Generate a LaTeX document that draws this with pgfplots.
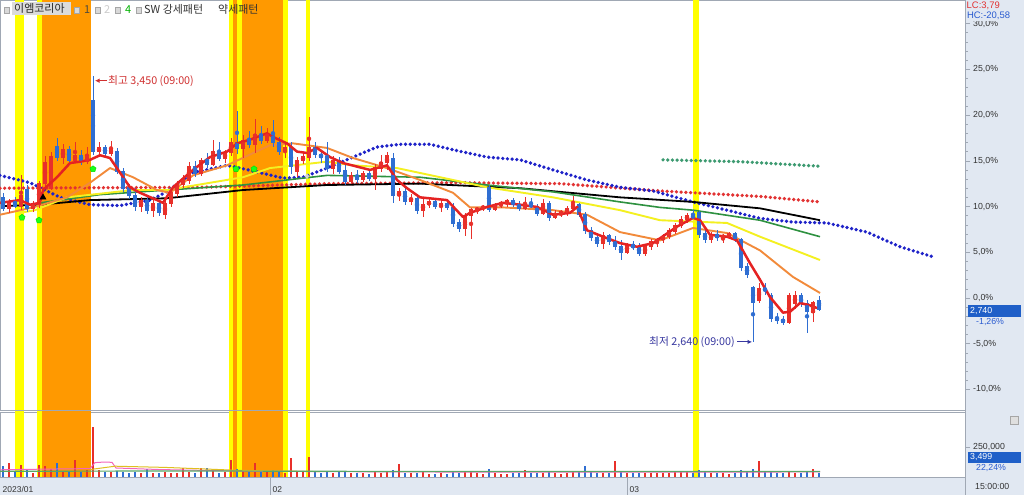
\documentclass[border=0pt]{standalone}
\usepackage{pgfplots}
\pgfplotsset{compat=1.18}
\usepackage{pgfplotstable}
\usepackage{fontspec}
\setmainfont{Liberation Sans}
\newfontfamily\kr{Noto Sans CJK KR}
\usetikzlibrary{arrows.meta}

\definecolor{cup}{HTML}{E8302A}
\definecolor{cdn}{HTML}{2F6ED2}
\definecolor{ma5}{HTML}{E52222}
\definecolor{ma20}{HTML}{F28A3A}
\definecolor{ma60}{HTML}{F4F020}
\definecolor{ma120}{HTML}{2E9140}
\definecolor{bdots}{HTML}{1E22C8}
\definecolor{rdots}{HTML}{E23232}
\definecolor{gdots}{HTML}{3C9A70}
\definecolor{hy}{HTML}{FFFF00}
\definecolor{ho}{HTML}{FF9900}
\definecolor{panel}{HTML}{E1E8F2}
\definecolor{frame}{HTML}{A0A8B4}
\definecolor{txt}{HTML}{333333}
\definecolor{boxblue}{HTML}{1F5FC8}
\definecolor{lblue}{HTML}{2A5BD0}
\definecolor{hired}{HTML}{D03030}
\definecolor{lowblue}{HTML}{3838A0}

\pgfplotstableread{
x o h l c v k
3 11.0 11.5 9.5 9.8 95 0
9 9.8 10.8 9.3 10.5 120 1
15 10.5 11.0 9.8 10.0 40 0
21 10.0 13.4 9.6 11.2 100 1
27 11.8 12.3 9.4 9.8 60 0
33 9.8 10.6 9.4 10.2 35 1
39 10.2 12.8 9.8 12.5 100 1
45 12.5 15.5 12.0 14.8 90 1
51 12.0 16.0 11.8 15.4 70 1
57 16.5 17.5 15.0 15.4 120 0
63 15.4 16.8 14.6 16.2 50 1
69 16.2 16.6 14.8 15.1 45 0
75 15.1 17.1 14.8 15.6 140 1
81 15.6 16.2 14.5 14.9 40 0
87 14.9 16.5 14.6 15.3 55 1
93 21.6 24.3 15.6 16.0 420 1
99 16.0 17.0 15.4 16.4 60 1
105 16.4 16.7 15.5 15.8 40 0
111 15.8 17.2 15.5 16.3 45 1
117 16.0 16.4 13.5 13.8 50 0
123 13.8 14.2 11.6 12.0 45 0
129 12.0 12.5 10.8 11.2 35 0
135 11.2 12.0 9.5 10.0 40 0
141 10.0 11.0 9.4 10.6 30 1
147 10.6 11.0 9.2 9.6 70 0
153 9.6 10.8 8.9 10.3 35 1
159 10.3 10.6 9.0 9.4 30 0
165 9.2 10.6 8.6 10.3 40 1
171 10.3 11.8 10.0 11.5 35 1
177 11.5 12.8 11.0 12.4 30 1
183 12.4 13.4 12.0 12.9 77 1
189 12.9 14.9 12.5 14.4 45 1
195 14.4 15.0 13.2 13.6 30 0
201 13.6 15.3 13.3 15.0 77 1
207 15.0 15.8 14.2 14.6 77 0
213 14.6 17.3 14.4 16.0 50 1
219 16.0 17.0 15.0 15.3 35 0
225 15.3 16.2 14.8 15.9 40 1
231 15.9 17.5 15.5 17.0 138 1
237 17.0 20.4 15.7 16.4 70 0
243 16.4 17.8 15.3 17.2 50 1
249 17.2 18.2 16.4 16.8 40 0
255 16.8 19.6 15.9 17.8 120 1
261 17.8 18.8 16.8 17.2 45 0
267 17.2 18.6 16.9 18.0 40 1
273 18.0 19.5 16.5 17.0 55 0
279 17.0 17.6 15.6 16.0 45 0
285 16.0 16.8 15.3 16.4 35 1
291 16.4 17.0 13.6 14.4 155 1
297 13.8 15.4 13.2 15.0 50 1
303 15.0 15.8 14.6 15.4 40 1
309 15.4 19.8 15.0 16.4 163 1
315 16.4 17.0 15.3 15.7 45 0
321 15.7 16.2 14.8 15.4 35 0
327 15.4 17.0 13.8 14.2 50 0
333 14.2 15.5 13.6 15.0 35 1
339 15.0 15.4 13.6 13.9 40 0
345 13.9 14.6 12.4 12.8 45 0
351 12.8 13.8 12.5 13.4 30 1
357 13.4 14.0 12.6 13.0 30 0
363 13.0 13.9 12.7 13.6 30 1
369 13.6 14.0 12.8 13.1 25 0
375 13.1 14.6 11.8 14.2 40 1
381 14.2 15.6 13.8 14.8 35 1
387 14.8 16.0 14.0 15.5 45 1
393 15.2 15.8 10.4 11.2 60 0
399 11.2 12.0 10.6 11.6 110 1
405 11.6 12.0 10.2 10.6 35 0
411 10.6 11.4 10.2 10.9 30 1
417 10.9 11.1 9.2 9.6 35 0
423 9.6 11.0 8.9 10.2 40 1
429 10.2 10.9 9.8 10.5 25 1
435 10.5 10.8 9.7 10.0 25 0
441 10.0 10.7 9.4 10.3 30 1
447 10.3 10.6 9.6 9.9 25 0
453 9.9 10.4 7.8 8.2 40 0
459 8.2 8.6 7.2 7.6 35 0
465 7.6 9.3 6.8 9.0 45 1
471 9.0 9.8 6.4 9.6 50 1
477 9.6 10.0 9.2 9.8 30 1
483 9.8 10.2 9.5 10.0 25 1
489 12.1 12.4 9.4 9.7 70 0
495 9.7 10.4 9.5 10.2 30 1
501 10.2 10.6 9.8 10.4 25 1
507 10.4 10.8 10.0 10.6 25 1
513 10.6 10.9 9.9 10.2 30 0
519 10.2 10.6 9.5 9.8 30 0
525 9.8 11.0 9.6 10.2 60 1
531 10.2 10.9 9.8 10.0 30 0
537 10.0 10.3 9.0 9.3 35 0
543 9.3 10.8 9.1 10.3 35 1
549 10.3 10.6 8.4 8.8 45 0
555 8.8 9.6 8.6 9.2 30 1
561 9.2 9.6 8.8 9.4 25 1
567 9.4 10.1 9.0 9.8 30 1
573 9.8 11.2 9.6 10.2 40 1
579 10.2 10.4 8.8 9.1 45 0
585 9.1 9.4 7.0 7.4 90 0
591 7.4 7.8 6.2 6.6 40 0
597 6.6 7.0 5.6 6.0 35 0
603 6.0 7.2 5.4 6.8 35 1
609 6.8 7.0 5.8 6.2 30 0
615 6.2 6.8 5.2 5.6 130 1
621 5.6 6.3 4.2 5.0 45 0
627 5.0 6.0 4.8 5.8 35 1
633 5.8 6.2 5.2 5.5 30 0
639 5.5 6.0 4.6 4.9 35 0
645 4.9 5.9 4.6 5.6 30 1
651 5.6 6.4 5.2 6.1 30 1
657 6.1 6.6 5.6 6.4 30 1
663 6.4 7.0 6.0 6.7 35 1
669 6.7 7.6 6.4 7.3 35 1
675 7.3 8.2 7.0 7.9 40 1
681 7.9 9.0 7.6 8.6 45 1
687 8.6 9.3 8.2 9.0 40 1
693 9.0 9.6 8.6 8.8 35 0
699 9.3 9.5 6.6 7.0 55 0
705 7.0 7.6 6.0 6.4 40 0
711 6.4 7.2 6.0 6.9 30 1
717 6.9 7.4 6.2 6.6 30 0
723 6.6 7.0 6.0 6.8 30 1
729 6.8 7.2 6.5 7.0 25 1
735 7.0 7.2 6.1 6.4 35 0
741 6.4 6.6 3.0 3.4 60 0
747 3.4 3.8 2.2 2.6 50 0
753 1.1 1.3 -4.86 -0.5 70 0
759 -0.3 1.6 -0.5 1.0 130 1
765 1.0 1.6 0.3 0.8 40 0
771 0.2 0.5 -2.6 -2.2 45 0
777 -2.2 -1.6 -2.8 -2.4 30 0
783 -2.4 -2.0 -3.0 -2.6 30 0
789 -2.6 0.6 -2.8 0.3 45 1
795 -0.6 0.8 -1.2 0.2 35 1
801 0.2 0.5 -1.0 -0.6 30 0
807 -0.6 -0.2 -3.8 -1.4 40 0
813 -1.6 -0.3 -2.6 -0.5 65 1
819 -0.3 0.2 -1.4 -1.26 35 0
}\cand

\newcommand{\band}[5]{\addplot[fill=#3,draw=none,forget plot] coordinates {(#1,#4) (#1,#5) (#2,#5) (#2,#4)} -- cycle;}
\newcommand{\bands}[2]{%
\band{15}{24}{hy}{#1}{#2}\band{37}{42}{hy}{#1}{#2}\band{42}{91}{ho}{#1}{#2}%
\band{229}{233.3}{hy}{#1}{#2}\band{233.3}{237.3}{ho}{#1}{#2}\band{237.3}{242.3}{hy}{#1}{#2}\band{242.3}{283.3}{ho}{#1}{#2}\band{283.3}{287.5}{hy}{#1}{#2}%
\band{305.5}{310}{hy}{#1}{#2}\band{693}{699}{hy}{#1}{#2}}

\tikzset{bigdots/.style={line width=3.7bp, dash pattern=on 0bp off 4.7bp, line cap=round}}

\begin{document}
\begin{tikzpicture}[x=1bp,y=1bp]
\useasboundingbox (0,0) rectangle (1024,495);
\fill[white] (0,0) rectangle (1024,495);
\fill[panel] (965,0) rectangle (1024,495);
\fill[panel] (0,0) rectangle (965,18);

\begin{axis}[
  at={(0bp,85bp)}, anchor=south west,
  scale only axis, width=965bp, height=410bp,
  xmin=0, xmax=965, ymin=-12.24, ymax=32.57,
  axis line style={frame},
  xtick=\empty,
  ytick={-10,-5,0,5,10,15,20,25,30},
  yticklabels={{-10,0\%},{-5,0\%},{0,0\%},{5,0\%},{10,0\%},{15,0\%},{20,0\%},{25,0\%},{30,0\%}},
  minor y tick num=4,
  ytick pos=right, yticklabel pos=right,
  tick align=outside, major tick length=5bp, minor tick length=2.5bp,
  tick style={frame, line width=0.5bp},
  yticklabel style={font=\fontsize{8.8}{9}\selectfont, text=txt, anchor=west, inner sep=0pt, xshift=3bp},
]
\bands{-13}{33}
% dotted indicator lines
\addplot[bigdots, rdots, forget plot] coordinates {(0,12.0)(200,12.1)(330,12.5)(450,12.6)(560,12.5)(660,11.7)(760,11.1)(820,10.5)};
\addplot[bigdots, gdots, forget plot] coordinates {(663,15.1)(740,14.9)(820,14.4)};
\addplot[bigdots, bdots, forget plot] coordinates {(0,13.4)(30,12.6)(60,11.0)(90,10.2)(120,10.1)(150,10.7)(165,11.5)(193,13.7)(227,14.5)(240,14.2)(260,13.7)(283,13.1)(303,13.2)(327,14.2)(353,15.4)(377,16.5)(400,16.8)(430,16.8)(453,16.2)(487,15.4)(520,15.1)(553,14.0)(587,12.9)(620,12.1)(653,11.7)(693,10.5)(727,9.6)(760,8.7)(793,8.3)(827,8.2)(867,7.2)(900,5.6)(933,4.5)};
% moving averages
\addplot[black, line width=1.8bp, line join=round, forget plot] coordinates {(5,10.05)(40,10.2)(90,10.7)(167,10.9)(243,11.8)(327,12.35)(420,12.5)(520,12.0)(620,11.0)(693,10.5)(760,9.8)(820,8.5)};
\addplot[ma120, line width=1.6bp, line join=round, forget plot] coordinates {(40,10.4)(100,11.3)(167,11.8)(243,12.35)(327,13.4)(420,13.2)(487,12.35)(553,11.6)(620,10.5)(660,9.9)(693,9.6)(760,8.5)(820,6.7)};
\addplot[ma60, line width=1.9bp, line join=round, forget plot] coordinates {(20,9.3)(35,9.6)(67,11.0)(133,11.8)(167,11.8)(243,13.2)(270,14.2)(327,14.9)(353,14.5)(397,14.2)(453,12.9)(487,12.1)(553,11.0)(620,9.6)(660,8.5)(727,8.2)(760,6.7)(820,4.15)};
\addplot[ma20, line width=1.9bp, line join=round, forget plot] coordinates {(0,9.1)(33,9.9)(67,11.0)(90,12.6)(110,14.2)(133,13.2)(157,11.8)(170,11.5)(193,13.4)(227,14.5)(270,16.7)(293,16.9)(327,16.4)(353,15.3)(387,14.2)(420,12.9)(453,11.5)(470,9.9)(503,9.9)(553,9.6)(587,9.1)(620,7.2)(660,6.3)(693,7.65)(727,7.1)(760,5.2)(793,2.3)(820,0.55)};
% candles: wicks
\addplot[cup, only marks, mark=none, forget plot,
  restrict expr to domain={\thisrow{c}-\thisrow{o}}{0:100},
  error bars/.cd, y dir=both, y explicit, error mark=none,
  error bar style={line width=0.8bp, color=cup, solid}]
  table[x=x, y expr={(\thisrow{h}+\thisrow{l})/2}, y error expr={(\thisrow{h}-\thisrow{l})/2}] {\cand};
\addplot[cdn, only marks, mark=none, forget plot,
  restrict expr to domain={\thisrow{c}-\thisrow{o}}{-100:-0.0001},
  error bars/.cd, y dir=both, y explicit, error mark=none,
  error bar style={line width=0.8bp, color=cdn, solid}]
  table[x=x, y expr={(\thisrow{h}+\thisrow{l})/2}, y error expr={(\thisrow{h}-\thisrow{l})/2}] {\cand};
% candles: bodies
\addplot[cup, only marks, mark=none, forget plot,
  restrict expr to domain={\thisrow{c}-\thisrow{o}}{0:100},
  error bars/.cd, y dir=both, y explicit, error mark=none,
  error bar style={line width=3.4bp, color=cup, solid}]
  table[x=x, y expr={(\thisrow{o}+\thisrow{c})/2}, y error expr={abs(\thisrow{c}-\thisrow{o})/2+0.08}] {\cand};
\addplot[cdn, only marks, mark=none, forget plot,
  restrict expr to domain={\thisrow{c}-\thisrow{o}}{-100:-0.0001},
  error bars/.cd, y dir=both, y explicit, error mark=none,
  error bar style={line width=3.4bp, color=cdn, solid}]
  table[x=x, y expr={(\thisrow{o}+\thisrow{c})/2}, y error expr={abs(\thisrow{c}-\thisrow{o})/2+0.08}] {\cand};
% MA5
\addplot[ma5, line width=2.5bp, line join=round, forget plot] coordinates {(0,10.4)(20,10.7)(30,10.2)(40,10.4)(43,11.8)(57,13.2)(70,14.75)(80,14.9)(90,15.1)(100,15.6)(110,15.3)(120,13.7)(130,12.1)(140,11.5)(157,10.7)(163,10.4)(173,12.1)(193,14.0)(210,15.4)(227,16.0)(237,16.9)(250,17.3)(267,18.0)(273,17.6)(287,16.9)(297,16.0)(307,15.85)(317,16.4)(330,15.4)(343,14.75)(370,14.0)(387,14.5)(397,12.9)(407,12.0)(420,11.0)(447,10.7)(463,8.85)(470,9.3)(487,9.95)(503,10.4)(520,10.2)(537,9.95)(553,9.1)(570,9.3)(577,9.95)(587,7.4)(603,6.7)(620,6.0)(637,5.6)(653,6.0)(677,7.8)(693,8.75)(700,8.5)(710,6.9)(727,6.7)(737,6.3)(750,3.8)(760,2.0)(770,0.1)(783,-1.6)(790,-1.5)(800,-0.55)(810,-0.8)(817,-1.1)};
% signal marks
\addplot[only marks, mark=pentagon*, mark size=3.2bp, color=green!85!black, fill=green!90!white, forget plot] coordinates {(22,8.8)(39,8.5)(93,14.1)(236,14.1)(254,14.1)};
\addplot[only marks, mark=triangle*, mark size=3.5bp, black, forget plot] coordinates {(43,11.0)};
\addplot[only marks, mark=diamond*, mark size=2.5bp, gray!35, forget plot] coordinates {(307,13.3)};
% annotations
\draw[hired, line width=0.9bp, -{Latex[length=4.5bp,width=4.5bp]}] (axis cs:107,23.75) -- (axis cs:95,23.75);
\node[anchor=west, inner sep=0pt, text=hired, font=\kr\fontsize{10.8}{12}\selectfont] at (axis cs:108,23.75) {최고 3,450 (09:00)};
\node[anchor=east, inner sep=0pt, text=lowblue, font=\kr\fontsize{10.8}{12}\selectfont] at (axis cs:735,-4.8) {최저 2,640 (09:00)};
\draw[lowblue, line width=0.9bp, -{Latex[length=4.5bp,width=4.5bp]}] (axis cs:737,-4.8) -- (axis cs:752,-4.8);
\end{axis}

% volume panel
\begin{axis}[
  at={(0bp,18bp)}, anchor=south west,
  scale only axis, width=965bp, height=65bp,
  xmin=0, xmax=965, ymin=0, ymax=542,
  axis line style={frame},
  xtick={0,270,627}, xticklabels={2023/01,02,03},
  xtick style={draw=none},
  xticklabel style={font=\fontsize{8.5}{9}\selectfont, text=txt, anchor=north west, inner sep=0pt, xshift=2.5bp, yshift=-4bp},
  ytick={250}, yticklabels={250{,}000},
  ytick pos=right, yticklabel pos=right,
  tick align=outside, major tick length=5bp,
  minor y tick num=4, minor tick length=2.5bp,
  tick style={frame, line width=0.5bp},
  yticklabel style={font=\fontsize{8.8}{9}\selectfont, text=txt, anchor=west, inner sep=0pt, xshift=3bp},
]
\bands{-5}{560}
\addplot[ycomb, cup, line width=2.2bp, mark=none, forget plot,
  restrict expr to domain={\thisrow{k}}{0.5:1.5}] table[x=x, y=v] {\cand};
\addplot[ycomb, cdn, line width=2.2bp, mark=none, forget plot,
  restrict expr to domain={\thisrow{k}}{-0.5:0.5}] table[x=x, y=v] {\cand};
\addplot[color=magenta!60, line width=1bp, forget plot] coordinates {(0,60)(40,65)(90,70)(95,120)(105,125)(112,122)(116,75)(160,62)(250,48)(400,42)(600,40)(820,42)};
\addplot[color=brown!50!yellow, line width=1bp, forget plot] coordinates {(90,62)(115,90)(165,80)(240,55)(320,45)};
\addplot[color=ma120!80, line width=1.2bp, forget plot] coordinates {(0,48)(200,50)(400,46)(600,45)(820,46)};
\end{axis}

% date separators and right panel line
\draw[frame, line width=0.6bp] (270,0) -- (270,18);
\draw[frame, line width=0.6bp] (627,0) -- (627,18);
\draw[frame, line width=0.6bp] (965,0) -- (965,495);

% right panel texts
\node[anchor=north west, inner sep=0.5pt, text=rdots, font=\fontsize{9.5}{9}\selectfont] at (966,494) {LC:3,79};
\node[anchor=north west, inner sep=0.8pt, fill=panel, text=lblue, font=\fontsize{9.5}{9}\selectfont] at (966,484) {HC:-20,58};
\fill[boxblue] (968,178) rectangle (1021,190);
\node[anchor=west, inner sep=0pt, text=white, font=\fontsize{8.8}{9}\selectfont] at (970,184) {2,740};
\node[anchor=west, inner sep=0pt, text=lblue, font=\fontsize{8.8}{9}\selectfont] at (976,173) {-1,26\%};
\fill[boxblue] (968,32) rectangle (1021,43);
\node[anchor=west, inner sep=0pt, text=white, font=\fontsize{8.8}{9}\selectfont] at (970,37.5) {3,499};
\node[anchor=west, inner sep=0pt, text=lblue, font=\fontsize{8.8}{9}\selectfont] at (976,26.5) {22,24\%};
\node[anchor=west, inner sep=0pt, text=txt, font=\fontsize{8.8}{9}\selectfont] at (975,8.5) {15:00:00};
\draw[gray!70, fill=gray!25] (1010,71) rectangle (1018,79);

% legend
\def\lsq#1{\draw[gray!70, fill=gray!30, line width=0.4bp] (#1,482) rectangle ++(5.5,5.5);}
\lsq{4}
\fill[gray!28] (12,480) rectangle (71,493);
\node[anchor=west, inner sep=0pt, text=black!85, font=\kr\fontsize{11}{12}\selectfont] at (14,486.5) {이엠코리아};
\lsq{74}
\node[anchor=west, inner sep=0pt, text=black!80!yellow, font=\kr\fontsize{11}{12}\selectfont] at (84,485.5) {1};
\lsq{95}
\node[anchor=west, inner sep=0pt, text=gray!40, font=\kr\fontsize{11}{12}\selectfont] at (104,485.5) {2};
\lsq{115}
\node[anchor=west, inner sep=0pt, text=green!70!black, font=\kr\fontsize{11}{12}\selectfont] at (125,485.5) {4};
\lsq{136}
\node[anchor=west, inner sep=0pt, text=txt, font=\kr\fontsize{11}{12}\selectfont] at (144,485.5) {SW 강세패턴};
\node[anchor=west, inner sep=0pt, text=txt, font=\kr\fontsize{11}{12}\selectfont] at (218,485.5) {약세패턴};
\end{tikzpicture}
\end{document}
